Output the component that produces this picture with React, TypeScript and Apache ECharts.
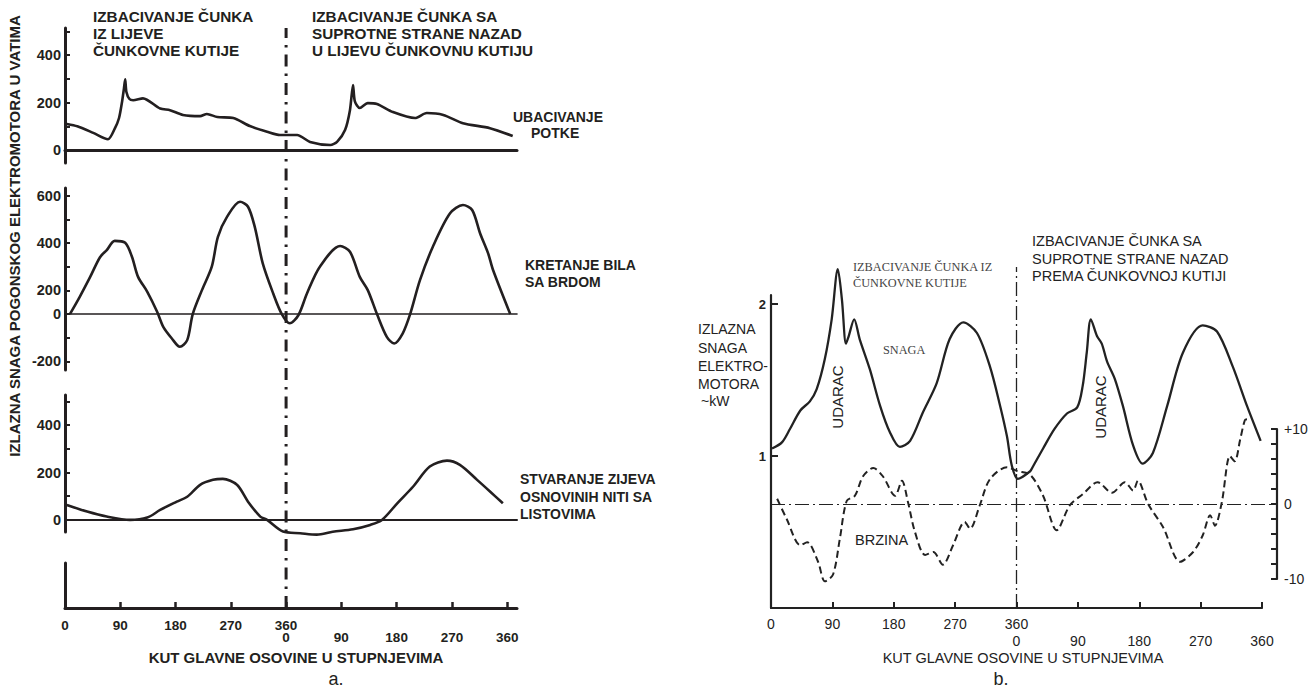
import React, { useEffect, useRef } from "react";
import * as echarts from "echarts";

// ---------- data (a) ----------
const topAngles = [3, 20, 46, 70, 81, 88, 93, 96, 98, 100, 105, 111, 127, 155, 171, 192, 220, 231, 248, 274, 301, 329, 350, 378, 399, 432, 443, 456, 464, 469, 472, 480, 493, 508, 534, 570, 589, 616, 648, 692, 729];
const topPower = [110, 100, 72, 45, 90, 135, 205, 260, 298, 245, 215, 210, 218, 175, 168, 148, 143, 152, 139, 135, 101, 77, 63, 63, 34, 21, 34, 84, 168, 274, 205, 177, 198, 194, 160, 135, 156, 148, 113, 92, 59];

const midAngles = [8, 24, 41, 57, 68, 81, 98, 109, 119, 134, 150, 160, 174, 187, 199, 208, 223, 239, 249, 264, 285, 298, 309, 322, 339, 353, 366, 380, 394, 415, 448, 464, 480, 493, 508, 524, 536, 550, 562, 578, 599, 627, 648, 663, 676, 689, 697, 725];
const midPower = [0, 73, 157, 240, 270, 309, 301, 242, 157, 94, 10, -54, -103, -138, -110, 0, 101, 200, 326, 411, 474, 453, 368, 214, 87, 0, -39, -5, 87, 200, 287, 263, 157, 101, 0, -96, -124, -81, 0, 143, 284, 425, 460, 439, 340, 256, 186, 0];
const midTickValues = [-200, -100, 0, 100, 200, 300, 400, 500];
const midLabelValues = [-200, 0, 100, 300, 500];
const midLabelTexts = ["-200", "0", "200", "400", "600"];

const botAngles = [3, 36, 68, 106, 134, 155, 182, 199, 220, 241, 257, 280, 298, 318, 329, 355, 383, 410, 436, 469, 497, 516, 541, 567, 594, 622, 643, 671, 692, 713];
const botPower = [63, 35, 14, 0, 10, 42, 77, 98, 148, 169, 173, 148, 77, 14, 0, -49, -56, -62, -50, -39, -21, 0, 70, 141, 225, 250, 232, 169, 120, 70];

const powerTicks = [0, 100, 200, 300, 400, 500];
const powerLabels = [0, 200, 400];
const angleTicks = [90, 180, 270, 360, 450, 540, 630, 720];
const angleLabelValues = [0, 90, 180, 270, 360, 450, 540, 630, 720];
const angleLabelTexts = ["0", "90", "180", "270", "360\n0", "\n90", "\n180", "\n270", "\n360"];
const shuttleAngle = 360;

// ---------- data (b) ----------
const snagaAngles = [1.5, 16, 28, 43, 57, 67, 79, 89, 98, 104, 110, 114, 122, 130, 145, 160, 174, 189, 204, 223, 243, 262, 282, 302, 321, 336, 346, 353, 362, 380, 384, 399, 416, 434, 449, 457, 463, 469, 478, 485, 493, 504, 516, 531, 545, 560, 581, 604, 633, 654, 677, 698, 718];
const snagaKW = [1.05, 1.09, 1.18, 1.3, 1.36, 1.44, 1.64, 1.9, 2.23, 2.03, 1.74, 1.79, 1.9, 1.77, 1.57, 1.33, 1.16, 1.06, 1.1, 1.29, 1.48, 1.77, 1.88, 1.81, 1.59, 1.33, 1.13, 0.94, 0.85, 0.9, 0.93, 1.05, 1.18, 1.28, 1.32, 1.46, 1.68, 1.9, 1.79, 1.74, 1.62, 1.51, 1.33, 1.07, 0.95, 1.02, 1.33, 1.68, 1.86, 1.82, 1.59, 1.33, 1.1];

const brzinaAngles = [9, 23, 43, 53, 69, 79, 91, 101, 111, 123, 135, 150, 164, 182, 192, 201, 211, 226, 238, 252, 267, 284, 292, 306, 321, 346, 361, 380, 399, 419, 438, 457, 479, 500, 519, 531, 538, 553, 575, 600, 619, 633, 644, 651, 661, 673, 680, 688, 695, 699];
const brzinaValues = [0.7, -2.0, -5.5, -5.1, -7.7, -10.3, -9.4, -4.6, 0.4, 1.1, 3.7, 4.8, 3.7, 1.1, 3.1, 0.2, -3.7, -6.8, -6.4, -8.1, -5.5, -2.4, -3.3, -0.2, 3.3, 4.9, 4.4, 3.9, 1.1, -3.5, -0.2, 1.3, 2.9, 1.5, 2.9, 1.8, 3.1, 0, -3.1, -7.7, -6.4, -4.2, -1.5, -2.9, 0.2, 6.4, 5.7, 8.6, 11.2, 11.3];
const kwTicks = [1, 2];
const speedTicks = [-10, 0, 10];

const INK = "#231f20";
const INK2 = "#222222";
const SANS = '"Liberation Sans", Arial, Helvetica, sans-serif';
const SERIF = '"Liberation Serif", "Times New Roman", serif';

const zip = (xs: number[], ys: number[]) => xs.map((x, i) => [x, ys[i]]);

function txt(x: number, y: number, text: string, size: number, opts: any = {}) {
  const align = opts.align || "left";
  return {
    type: "text",
    x,
    y,
    rotation: opts.rotation || 0,
    silent: true,
    style: {
      text,
      fill: opts.color || INK,
      font: `${opts.weight || "bold"} ${size}px ${opts.family || SANS}`,
      textAlign: align,
      align,
      textVerticalAlign: "middle",
      verticalAlign: "middle",
    },
  };
}

function leftYAxis(grid: number, min: number, max: number, ticks: number[] | null, labels: number[] | null, fmt?: (v: number) => string) {
  return {
    type: "value",
    gridIndex: grid,
    min,
    max,
    axisLine: { show: true, onZero: false, lineStyle: { color: INK, width: 3 } },
    axisTick: ticks ? { show: true, inside: true, length: 5, lineStyle: { color: INK, width: 2 }, customValues: ticks } : { show: false },
    axisLabel: labels
      ? { show: true, customValues: labels, margin: 4, color: INK, fontFamily: SANS, fontWeight: "bold", fontSize: 14.5, formatter: fmt || ((v: number) => String(v)) }
      : { show: false },
    splitLine: { show: false },
  };
}

function baseXAxis(grid: number, width: number) {
  return {
    type: "value",
    gridIndex: grid,
    min: 0,
    max: 736,
    axisLine: { show: true, onZero: true, lineStyle: { color: INK, width } },
    axisTick: { show: false },
    axisLabel: { show: false },
    splitLine: { show: false },
  };
}

function curve(grid: number, data: number[][], width = 2.6, smooth = 0.3, color = INK) {
  return {
    type: "line",
    xAxisIndex: grid,
    yAxisIndex: grid,
    data,
    symbol: "none",
    smooth,
    clip: false,
    lineStyle: { color, width },
    silent: true,
  };
}

export default function App() {
  const ref = useRef<HTMLDivElement>(null);
  useEffect(() => {
    document.body.style.margin = "0";
    const chart = echarts.init(ref.current!, null, { renderer: "svg" });
    const L = 65, LW = 452;
    const R = 771, RW = 491;
    const midLabel = (v: number) => {
      const i = midLabelValues.indexOf(v);
      return i >= 0 ? midLabelTexts[i] : "";
    };
    const angleLabel = (v: number) => {
      const i = angleLabelValues.indexOf(v);
      return i >= 0 ? angleLabelTexts[i] : "";
    };
    const option: any = {
      animation: false,
      backgroundColor: "#ffffff",
      grid: [
        { left: L, top: 28, width: LW, height: 135 }, // 0 top
        { left: L, top: 188, width: LW, height: 182 }, // 1 middle
        { left: L, top: 395, width: LW, height: 137 }, // 2 bottom
        { left: L, top: 563, width: LW, height: 45 }, // 3 stub + x axis
        { left: L, top: 28, width: LW, height: 580 }, // 4 overlay dashed line
        { left: R, top: 295, width: RW, height: 313 }, // 5 snaga
        { left: R, top: 429, width: 506, height: 150 }, // 6 brzina
        { left: R, top: 267, width: RW, height: 341 }, // 7 overlay dash-dot
      ],
      xAxis: [
        baseXAxis(0, 3),
        baseXAxis(1, 1.6),
        baseXAxis(2, 2),
        {
          type: "value",
          gridIndex: 3,
          min: 0,
          max: 736,
          axisLine: { show: true, onZero: true, lineStyle: { color: INK, width: 3 } },
          axisTick: { show: true, inside: true, length: 6, lineStyle: { color: INK, width: 2.5 }, customValues: angleTicks },
          axisLabel: { show: true, customValues: angleLabelValues, formatter: angleLabel, margin: 11, color: INK, fontFamily: SANS, fontWeight: "bold", fontSize: 13.5, lineHeight: 12.5, verticalAlign: "top" },
          splitLine: { show: false },
        },
        { type: "value", gridIndex: 4, min: 0, max: 736, show: false },
        {
          type: "value",
          gridIndex: 5,
          min: 0,
          max: 720,
          axisLine: { show: true, onZero: false, lineStyle: { color: INK2, width: 2.2 } },
          axisTick: { show: true, inside: true, length: 6, lineStyle: { color: INK2, width: 2 }, customValues: angleTicks },
          axisLabel: { show: true, customValues: angleLabelValues, formatter: angleLabel, margin: 7, color: INK2, fontFamily: SANS, fontSize: 14, lineHeight: 17, verticalAlign: "top" },
          splitLine: { show: false },
        },
        { type: "value", gridIndex: 6, min: 0, max: 742, show: false },
        { type: "value", gridIndex: 7, min: 0, max: 720, show: false },
      ],
      yAxis: [
        leftYAxis(0, -55, 515, powerTicks, powerLabels),
        leftYAxis(1, -236, 532, midTickValues, midLabelValues, midLabel),
        leftYAxis(2, -51, 527, powerTicks, powerLabels),
        leftYAxis(3, 0, 1, null, null),
        { type: "value", gridIndex: 4, min: 0, max: 1, show: false },
        {
          type: "value",
          gridIndex: 5,
          min: 0,
          max: 2.06,
          axisLine: { show: true, onZero: false, lineStyle: { color: INK2, width: 2.2 } },
          axisTick: { show: true, inside: true, length: 7, lineStyle: { color: INK2, width: 2 }, customValues: kwTicks },
          axisLabel: { show: true, customValues: kwTicks, margin: 5, color: INK2, fontFamily: SANS, fontWeight: "bold", fontSize: 13 },
          splitLine: { show: false },
        },
        {
          type: "value",
          gridIndex: 6,
          position: "right",
          min: -10,
          max: 10,
          interval: 2,
          axisLine: { show: true, onZero: false, lineStyle: { color: INK2, width: 2.2 } },
          axisTick: { show: true, inside: true, length: 6, lineStyle: { color: INK2, width: 2 } },
          axisLabel: { show: true, customValues: speedTicks, margin: 7, color: INK2, fontFamily: SANS, fontSize: 14, formatter: (v: number) => (v > 0 ? "+" + v : String(v)) },
          splitLine: { show: false },
        },
        { type: "value", gridIndex: 7, min: 0, max: 1, show: false },
      ],
      series: [
        curve(0, zip(topAngles, topPower), 2.6, 0.25),
        curve(1, zip(midAngles, midPower), 2.6, 0.3),
        curve(2, zip(botAngles, botPower), 2.6, 0.3),
        {
          type: "line",
          xAxisIndex: 4,
          yAxisIndex: 4,
          data: [[shuttleAngle, 0], [shuttleAngle, 1]],
          symbol: "none",
          lineStyle: { color: INK, width: 3, type: [12, 7, 2.5, 7] },
          silent: true,
        },
        curve(5, zip(snagaAngles, snagaKW), 2.3, 0.3, INK2),
        {
          type: "line",
          xAxisIndex: 6,
          yAxisIndex: 6,
          data: zip(brzinaAngles, brzinaValues),
          symbol: "none",
          smooth: 0.3,
          clip: false,
          lineStyle: { color: INK2, width: 2, type: [7, 4] },
          silent: true,
          markLine: {
            symbol: ["none", "none"],
            silent: true,
            label: { show: false },
            lineStyle: { color: INK2, width: 1.2, type: [14, 4, 2, 4] },
            data: [{ yAxis: 0 }],
          },
        },
        {
          type: "line",
          xAxisIndex: 7,
          yAxisIndex: 7,
          data: [[360, 0], [360, 1]],
          symbol: "none",
          lineStyle: { color: INK2, width: 1.3, type: [14, 4, 2, 4] },
          silent: true,
        },
      ],
      graphic: [
        // (a) annotations
        txt(14, 236, "IZLAZNA SNAGA POGONSKOG ELEKTROMOTORA U VATIMA", 15, { rotation: Math.PI / 2, align: "center" }),
        txt(93, 16.5, "IZBACIVANJE ČUNKA", 15.3),
        txt(93, 33, "IZ LIJEVE", 15.3),
        txt(93, 50, "ČUNKOVNE KUTIJE", 15.3),
        txt(312, 16.5, "IZBACIVANJE ČUNKA SA", 15.3),
        txt(312, 33, "SUPROTNE STRANE NAZAD", 15.3),
        txt(312, 50, "U LIJEVU ČUNKOVNU KUTIJU", 15.3),
        txt(513, 116.5, "UBACIVANJE", 14),
        txt(531, 132.5, "POTKE", 14),
        txt(525, 265, "KRETANJE BILA", 14),
        txt(525, 282, "SA BRDOM", 14),
        txt(520, 479, "STVARANJE ZIJEVA", 14),
        txt(520, 497, "OSNOVINIH NITI SA", 14),
        txt(520, 514, "LISTOVIMA", 14),
        txt(296, 657, "KUT GLAVNE OSOVINE U STUPNJEVIMA", 15, { align: "center" }),
        txt(336, 679, "a.", 18, { weight: "normal", align: "center" }),
        // (b) annotations
        txt(698, 329, "IZLAZNA", 14, { weight: "normal", color: INK2 }),
        txt(698, 348, "SNAGA", 14, { weight: "normal", color: INK2 }),
        txt(698, 366, "ELEKTRO-", 14, { weight: "normal", color: INK2 }),
        txt(698, 384, "MOTORA", 14, { weight: "normal", color: INK2 }),
        txt(701, 401, "~kW", 14, { weight: "normal", color: INK2 }),
        txt(853, 267, "IZBACIVANJE ČUNKA IZ", 12.3, { weight: "normal", family: SERIF, color: "#444" }),
        txt(853, 282.5, "ČUNKOVNE KUTIJE", 12.3, { weight: "normal", family: SERIF, color: "#444" }),
        txt(883, 350, "SNAGA", 12.3, { weight: "normal", family: SERIF, color: "#444" }),
        txt(837, 397, "UDARAC", 15, { weight: "normal", rotation: Math.PI / 2, align: "center", color: INK2 }),
        txt(1100, 407, "UDARAC", 15, { weight: "normal", rotation: Math.PI / 2, align: "center", color: INK2 }),
        txt(1032, 241, "IZBACIVANJE ČUNKA SA", 14.5, { weight: "normal", color: INK2 }),
        txt(1032, 258.5, "SUPROTNE STRANE NAZAD", 14.5, { weight: "normal", color: INK2 }),
        txt(1032, 276, "PREMA ČUNKOVNOJ KUTIJI", 14.5, { weight: "normal", color: INK2 }),
        txt(855, 540, "BRZINA", 14.5, { weight: "normal", color: INK2 }),
        txt(1023, 658, "KUT GLAVNE OSOVINE U STUPNJEVIMA", 14.5, { weight: "normal", align: "center", color: INK2 }),
        txt(1001, 679, "b.", 18, { weight: "normal", align: "center", color: INK2 }),
      ],
    };
    chart.setOption(option);
    return () => chart.dispose();
  }, []);
  return <div ref={ref} style={{ width: 1316, height: 690 }} />;
}
